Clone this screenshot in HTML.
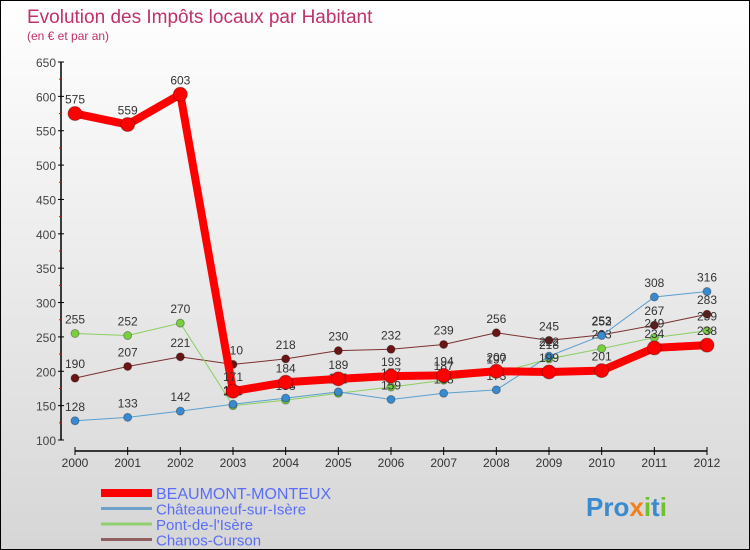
<!DOCTYPE html>
<html><head><meta charset="utf-8"><style>
body{margin:0}
#c{width:750px;height:550px;position:relative;box-sizing:border-box;border:1px solid #000;background:linear-gradient(#fff,#d6d6d6);font-family:"Liberation Sans",sans-serif;overflow:hidden}
</style></head><body>
<div id="c">
<svg id="s" width="748" height="548" style="position:absolute;left:0;top:0">
<text x="26" y="22" font-size="19" fill="#c0306a">Evolution des Impôts locaux par Habitant</text>
<text x="26" y="39" font-size="12" fill="#c0306a">(en € et par an)</text>
</svg>
</div>
<script>
const years=[2000,2001,2002,2003,2004,2005,2006,2007,2008,2009,2010,2011,2012];
const beaumont=[575,559,603,171,184,189,193,194,200,199,201,234,238];
const chateauneuf=[128,133,142,152,161,170,159,168,173,222,252,308,316];
const pont=[255,252,270,150,158,168,177,187,197,218,233,249,259];
const chanos=[190,207,221,210,218,230,232,239,256,245,253,267,283];
const yTicks=[100,150,200,250,300,350,400,450,500,550,600,650];
const NS='http://www.w3.org/2000/svg';
const s=document.getElementById('s');
function X(i){return 74+(706-74)*i/(years.length-1);}
function Y(v){return 439-(v-100)*(439-61)/550;}
function mk(t,a,p){const e=document.createElementNS(NS,t);for(const k in a)e.setAttribute(k,a[k]);(p||s).appendChild(e);return e;}
// axes
let ya=mk('line',{x1:60,y1:61,x2:60,y2:439,stroke:'#000','stroke-width':1.5});


yTicks.forEach((v,i)=>{
  mk('line',{x1:57,y1:Y(v),x2:63,y2:Y(v),stroke:'#000'});
  if(i<yTicks.length-1)mk('line',{x1:58,y1:Y(v+25),x2:61,y2:Y(v+25),stroke:'#e00'});
  let t=mk('text',{x:55,y:Y(v)+5,'text-anchor':'end','font-size':12,fill:'#444'});t.textContent=v;
  
  
});
let xa=mk('line',{x1:74,y1:450,x2:706,y2:450,stroke:'#000','stroke-width':1.5});


years.forEach((y,i)=>{
  mk('line',{x1:X(i),y1:446,x2:X(i),y2:454,stroke:'#000'});
  let t=mk('text',{x:X(i),y:466,'text-anchor':'middle','font-size':12,fill:'#333'});t.textContent=y;
  
  
});
function series(d,col,w,r,fill,name){
  const g=mk('g',{});
  
  
  mk('polyline',{points:d.map((v,i)=>X(i)+','+Y(v)).join(' '),fill:'none',stroke:col,'stroke-width':w,'stroke-linejoin':'round'},g);
  d.forEach((v,i)=>{
    const c=mk('circle',{cx:X(i),cy:Y(v),r:r,fill:fill,stroke:'rgba(0,0,0,0.3)','stroke-width':1},g);
    
    
    const t=mk('text',{x:X(i),y:Y(v)-10,'text-anchor':'middle','font-size':12,fill:'#333'},g);t.textContent=v;
    
    
  });
}
series(chanos,'#7a3030',1,4,'#6a1515','series-chanos-curson');
series(pont,'#88d060',1,4,'#78d040','series-pont-de-l-isere');
series(chateauneuf,'#5a9fd0',1,4,'#3a8ad0','series-chateauneuf');
series(beaumont,'#f00',8,7,'#f00','series-beaumont-monteux');
// legend
const leg=[['BEAUMONT-MONTEUX','#f00',8],['Châteauneuf-sur-Isère','#6fa0c8',3],['Pont-de-l\'Isère','#90d070',3],['Chanos-Curson','#906060',3]];
leg.forEach((l,i)=>{
  const y=492+i*15.5;
  const g=mk('g',{});
  
  
  mk('line',{x1:100,y1:y,x2:151,y2:y,stroke:l[1],'stroke-width':l[2]},g);
  const t=mk('text',{x:155,y:y+6,'font-size':i==0?16:15,fill:'#5a6ef5'},g);t.textContent=l[0];
});
const p=mk('text',{x:585,y:515,'font-size':26,'font-weight':'bold',fill:'#3a8ad0'});


p.innerHTML='Pro<tspan fill="#f08020">x</tspan><tspan fill="#70c030">i</tspan>t<tspan fill="#70c030">i</tspan>';
</script>
</body></html>
